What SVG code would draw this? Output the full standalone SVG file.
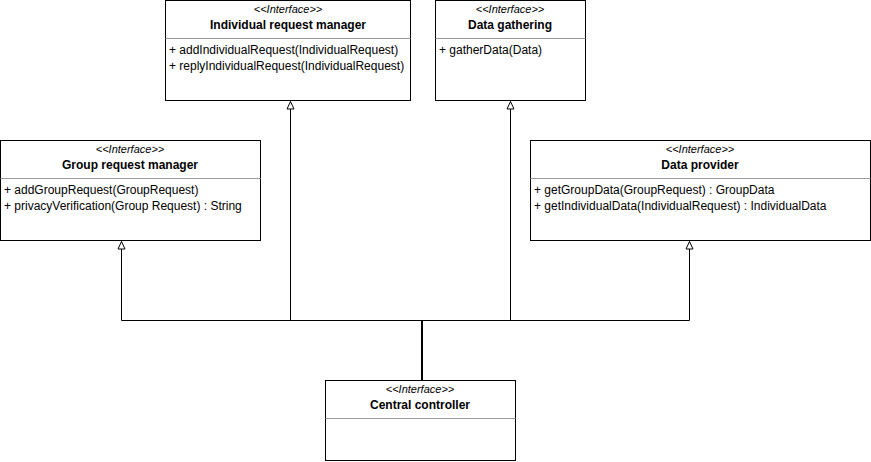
<svg xmlns="http://www.w3.org/2000/svg" width="871" height="462" viewBox="0 0 871 462">
<style>
.box{fill:#fff;stroke:#000;stroke-width:1}
.div{stroke:#999;stroke-width:1}
text{font-family:"Liberation Sans",Arial,sans-serif;font-size:12px;fill:#000}
.st{font-style:italic;font-size:11px;text-anchor:middle}
.ti{font-weight:bold;font-size:12px;text-anchor:middle}
.ln{fill:none;stroke:#000;stroke-width:1}
</style>
<defs>
<marker id="tri" markerWidth="10" markerHeight="10" refX="8" refY="4" orient="auto" markerUnits="userSpaceOnUse" viewBox="0 0 10 8">
<path d="M0.5,0.5 L8,4 L0.5,7.5 Z" fill="#fff" stroke="#000" stroke-width="1"/>
</marker>
</defs>
<rect width="871" height="462" fill="#fff"/>
<g id="connectors">
<path class="ln" d="M121.5,320.5 L121.5,241.5" marker-end="url(#tri)"/>
<path class="ln" d="M290.5,320.5 L290.5,101.5" marker-end="url(#tri)"/>
<path class="ln" d="M510.5,320.5 L510.5,101.5" marker-end="url(#tri)"/>
<path class="ln" d="M689.5,320.5 L689.5,241.5" marker-end="url(#tri)"/>
<path class="ln" d="M121.5,320.5 L689.5,320.5"/>
<path class="ln" d="M422,320.5 L422,380.5" style="stroke-width:2"/>
</g>
<g id="irm">
<rect class="box" x="165.5" y="0.5" width="245" height="100"/>
<text class="st" x="288" y="13">&lt;&lt;Interface&gt;&gt;</text>
<text class="ti" x="288" y="29">Individual request manager</text>
<line class="div" x1="165.5" y1="38.5" x2="410.5" y2="38.5"/>
<text x="169" y="54">+ addIndividualRequest(IndividualRequest)</text>
<text x="169" y="70">+ replyIndividualRequest(IndividualRequest)</text>
</g>
<g id="dg">
<rect class="box" x="435.5" y="0.5" width="150" height="100"/>
<text class="st" x="510" y="13">&lt;&lt;Interface&gt;&gt;</text>
<text class="ti" x="510" y="29">Data gathering</text>
<line class="div" x1="435.5" y1="38.5" x2="585.5" y2="38.5"/>
<text x="439" y="54">+ gatherData(Data)</text>
</g>
<g id="grm">
<rect class="box" x="0.5" y="140.5" width="260" height="100"/>
<text class="st" x="130" y="153">&lt;&lt;Interface&gt;&gt;</text>
<text class="ti" x="130" y="169">Group request manager</text>
<line class="div" x1="0.5" y1="178.5" x2="260.5" y2="178.5"/>
<text x="4" y="194">+ addGroupRequest(GroupRequest)</text>
<text x="4" y="210">+ privacyVerification(Group Request) : String</text>
</g>
<g id="dp">
<rect class="box" x="530.5" y="140.5" width="340" height="100"/>
<text class="st" x="700" y="153">&lt;&lt;Interface&gt;&gt;</text>
<text class="ti" x="700" y="169">Data provider</text>
<line class="div" x1="530.5" y1="178.5" x2="870.5" y2="178.5"/>
<text x="534" y="194">+ getGroupData(GroupRequest) : GroupData</text>
<text x="534" y="210">+ getIndividualData(IndividualRequest) : IndividualData</text>
</g>
<g id="cc">
<rect class="box" x="325.5" y="380.5" width="190" height="80"/>
<text class="st" x="420" y="393">&lt;&lt;Interface&gt;&gt;</text>
<text class="ti" x="420" y="409">Central controller</text>
<line class="div" x1="325.5" y1="418.5" x2="515.5" y2="418.5"/>
</g>
</svg>
